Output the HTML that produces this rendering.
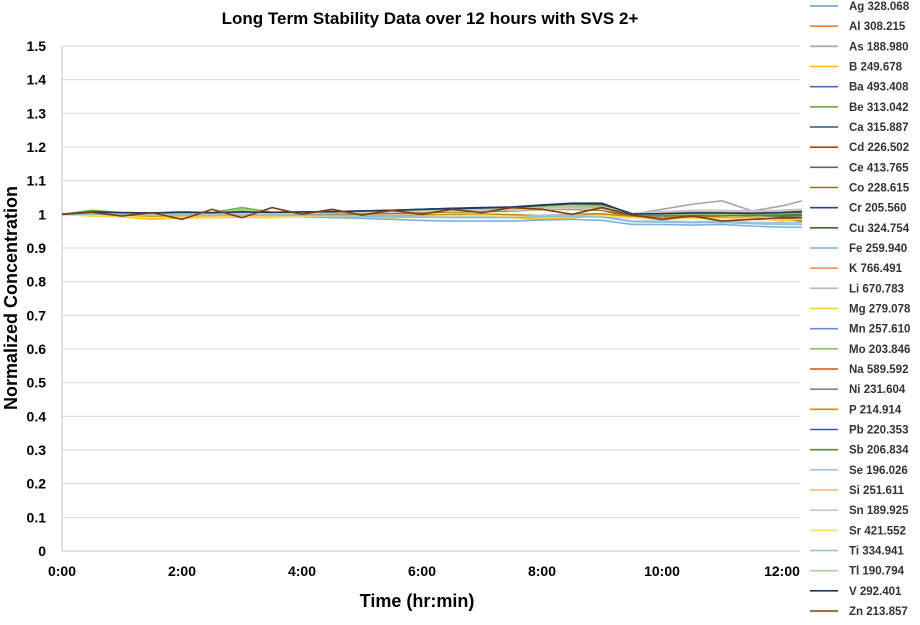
<!DOCTYPE html>
<html><head><meta charset="utf-8"><style>
body{margin:0;background:#fff;font-family:"Liberation Sans",Arial,sans-serif}
svg text{font-family:"Liberation Sans",Arial,sans-serif}
</style></head><body>
<svg id="c" width="920" height="620"></svg>
<script>
const times=[0,30,60,90,120,150,180,210,240,270,300,330,360,390,420,450,480,510,540,570,600,630,660,690,720,740];
const yTicks=[0,0.1,0.2,0.3,0.4,0.5,0.6,0.7,0.8,0.9,1,1.1,1.2,1.3,1.4,1.5];
const xTicks=["0:00","2:00","4:00","6:00","8:00","10:00","12:00"];
const names=["Ag 328.068","Al 308.215","As 188.980","B 249.678","Ba 493.408","Be 313.042","Ca 315.887","Cd 226.502","Ce 413.765","Co 228.615","Cr 205.560","Cu 324.754","Fe 259.940","K 766.491","Li 670.783","Mg 279.078","Mn 257.610","Mo 203.846","Na 589.592","Ni 231.604","P 214.914","Pb 220.353","Sb 206.834","Se 196.026","Si 251.611","Sn 189.925","Sr 421.552","Ti 334.941","Tl 190.794","V 292.401","Zn 213.857"];
const colors=["#5b9bd5","#ed7d31","#a5a5a5","#ffc000","#4472c4","#70ad47","#255e91","#9e480e","#636363","#997300","#264478","#43682b","#7cafdd","#f1975a","#b7b7b7","#ffcd33","#698ed0","#8cc168","#c55a11","#848484","#c09100","#335aa1","#5a8a39","#9dc3e6","#f4b183","#c9c9c9","#ffd966","#8fc1d6","#a9d18e","#203864","#843c0c"];
const s0=[1,1.008,1.004,1.002,1.004,1.003,1.005,1.004,1.005,1.006,1.007,1.008,1.01,1.012,1.013,1.015,1.02,1.022,1.02,0.995,0.996,0.995,0.998,0.997,0.998,1.0];
const s1=[1,1.005,1.003,1.001,1.003,1.002,1.004,1.003,1.004,1.005,1.006,1.007,1.009,1.011,1.012,1.014,1.018,1.02,1.015,0.998,1.0,1.002,1.01,1.003,1.006,1.012];
const s2=[1,1.004,1.002,1.0,1.002,1.001,1.003,1.002,1.003,1.004,1.005,1.006,1.008,1.01,1.011,1.013,1.016,1.018,1.015,1.0,1.015,1.03,1.04,1.01,1.025,1.04];
const s3=[1,0.995,0.993,0.985,0.99,0.99,0.992,0.99,0.995,0.993,0.992,0.99,0.992,0.995,0.997,0.99,0.985,0.99,0.995,0.99,0.985,0.99,0.988,0.99,0.98,0.985];
const s4=[1,1.006,1.004,1.003,1.005,1.004,1.006,1.005,1.006,1.007,1.008,1.01,1.012,1.014,1.016,1.018,1.022,1.025,1.025,1.0,1.002,1.004,1.005,1.004,1.006,1.01];
const s5=[1,1.012,1.005,1.003,1.008,1.005,1.02,1.006,1.005,1.006,1.007,1.01,1.012,1.014,1.015,1.017,1.022,1.03,1.03,1.002,1.0,1.003,1.0,1.002,1.003,1.008];
const s6=[1,1.007,1.005,1.004,1.006,1.005,1.007,1.006,1.007,1.008,1.009,1.011,1.014,1.016,1.018,1.02,1.025,1.03,1.03,1.002,1.003,1.005,1.006,1.005,1.007,1.01];
const s7=[1,1.002,1.0,0.998,1.0,0.999,1.002,1.0,1.002,1.002,1.004,1.005,1.006,1.008,1.01,1.012,1.015,1.016,1.014,0.995,0.99,0.995,0.992,0.99,0.985,0.99];
const s8=[1,1.004,1.003,1.002,1.003,1.002,1.004,1.003,1.004,1.005,1.006,1.007,1.009,1.011,1.012,1.014,1.018,1.02,1.02,0.997,0.998,1.0,1.0,0.999,1.0,1.002];
const s9=[1,1.001,0.999,0.997,0.999,0.998,1.0,0.999,1.0,1.001,1.002,1.003,1.005,1.007,1.008,1.01,1.014,1.015,1.012,0.992,0.99,0.993,0.99,0.985,0.985,0.98];
const s10=[1,1.006,1.004,1.003,1.005,1.004,1.006,1.005,1.006,1.008,1.01,1.012,1.015,1.018,1.02,1.022,1.028,1.033,1.033,1.0,1.002,1.004,1.004,1.003,1.005,1.008];
const s11=[1,1.005,1.004,1.002,1.004,1.003,1.005,1.004,1.005,1.007,1.008,1.01,1.013,1.015,1.017,1.019,1.025,1.03,1.03,0.998,0.997,1.0,0.998,0.996,0.995,0.996];
const s12=[1,1.0,0.998,0.996,0.996,0.995,0.995,0.994,0.993,0.99,0.988,0.985,0.982,0.98,0.98,0.98,0.983,0.985,0.982,0.97,0.97,0.968,0.97,0.965,0.962,0.962];
const s13=[1,1.004,1.002,1.0,1.002,1.001,1.003,1.002,1.003,1.004,1.006,1.007,1.008,1.01,1.012,1.015,1.02,1.02,1.018,1.0,1.005,1.012,1.01,1.008,1.012,1.015];
const s14=[1,1.003,1.002,1.0,1.002,1.001,1.003,1.002,1.003,1.004,1.005,1.006,1.008,1.01,1.011,1.013,1.016,1.018,1.015,1.002,1.006,1.01,1.01,1.008,1.01,1.012];
const s15=[1,0.997,0.995,0.99,0.993,0.993,0.995,0.993,0.996,0.995,0.995,0.993,0.995,0.997,0.998,0.995,0.99,0.995,0.998,0.992,0.988,0.99,0.99,0.99,0.985,0.988];
const s16=[1,1.005,1.003,1.002,1.004,1.003,1.005,1.004,1.005,1.006,1.007,1.009,1.011,1.013,1.014,1.016,1.02,1.022,1.02,0.998,0.999,1.001,1.002,1.001,1.003,1.005];
const s17=[1,1.006,1.004,1.002,1.004,1.003,1.01,1.004,1.005,1.006,1.007,1.009,1.011,1.013,1.015,1.017,1.02,1.025,1.022,1.0,1.0,1.002,1.003,1.002,1.004,1.006];
const s18=[1,1.003,1.0,0.998,1.001,1.0,1.002,1.0,1.002,1.003,1.004,1.005,1.007,1.009,1.01,1.012,1.016,1.018,1.016,0.996,0.998,1.004,1.0,0.996,0.998,1.0];
const s19=[1,1.004,1.002,1.001,1.003,1.002,1.004,1.003,1.004,1.005,1.006,1.007,1.009,1.011,1.012,1.014,1.018,1.02,1.018,0.997,0.997,0.999,0.999,0.998,0.999,1.0];
const s20=[1,0.998,0.996,0.993,0.995,0.995,0.997,0.995,0.997,0.997,0.997,0.996,0.998,1.0,1.001,0.999,0.995,1.0,1.002,0.993,0.99,0.992,0.99,0.988,0.986,0.988];
const s21=[1,1.006,1.004,1.003,1.005,1.004,1.006,1.005,1.006,1.007,1.009,1.011,1.013,1.016,1.018,1.02,1.025,1.028,1.028,1.0,1.001,1.003,1.003,1.002,1.004,1.006];
const s22=[1,1.005,1.003,1.002,1.004,1.003,1.005,1.004,1.005,1.006,1.008,1.01,1.012,1.014,1.016,1.018,1.024,1.03,1.03,0.999,0.998,1.0,0.999,0.997,0.998,1.0];
const s23=[1,1.002,1.0,0.998,0.999,0.998,0.999,0.998,0.998,0.997,0.996,0.995,0.994,0.993,0.993,0.993,0.996,0.998,0.995,0.98,0.98,0.978,0.98,0.976,0.975,0.975];
const s24=[1,1.004,1.002,1.001,1.003,1.002,1.004,1.003,1.004,1.005,1.006,1.008,1.01,1.012,1.013,1.015,1.019,1.02,1.018,1.0,1.004,1.008,1.008,1.006,1.01,1.014];
const s25=[1,1.003,1.001,1.0,1.002,1.001,1.003,1.002,1.003,1.004,1.005,1.006,1.008,1.009,1.011,1.012,1.015,1.017,1.015,1.003,1.008,1.012,1.012,1.01,1.012,1.015];
const s26=[1,0.996,0.994,0.99,0.992,0.992,0.994,0.992,0.995,0.994,0.994,0.992,0.994,0.996,0.997,0.994,0.99,0.994,0.996,0.99,0.986,0.988,0.988,0.987,0.983,0.985];
const s27=[1,1.001,0.999,0.997,0.998,0.997,0.998,0.997,0.997,0.996,0.995,0.993,0.992,0.99,0.99,0.99,0.993,0.995,0.992,0.978,0.977,0.975,0.976,0.972,0.97,0.97];
const s28=[1,1.007,1.004,1.002,1.005,1.003,1.015,1.004,1.005,1.006,1.007,1.009,1.011,1.013,1.015,1.017,1.021,1.026,1.024,1.001,1.0,1.002,1.001,1.002,1.003,1.006];
const s29=[1,1.007,1.005,1.004,1.006,1.005,1.007,1.006,1.007,1.008,1.01,1.012,1.015,1.017,1.019,1.021,1.027,1.032,1.032,1.001,1.002,1.004,1.004,1.003,1.005,1.008];
const s30=[1,1.006,0.995,1.005,0.985,1.015,0.99,1.02,1.0,1.015,0.998,1.012,1.0,1.015,1.005,1.02,1.015,1.0,1.02,0.998,0.985,0.995,0.98,0.985,0.99,0.99];
const series=[s0,s1,s2,s3,s4,s5,s6,s7,s8,s9,s10,s11,s12,s13,s14,s15,s16,s17,s18,s19,s20,s21,s22,s23,s24,s25,s26,s27,s28,s29,s30];

const svg=document.getElementById('c');const NS='http://www.w3.org/2000/svg';
const L=62,R=800,T=46,B=551;
const xs=m=>L+m/60*60;
const ys=v=>B-(v/1.5)*(B-T);
function mk(tag,attrs,parent){const e=document.createElementNS(NS,tag);for(const k in attrs)e.setAttribute(k,attrs[k]);(parent||svg).appendChild(e);return e;}
yTicks.forEach((t,i)=>{
  const g=mk('line',{x1:L,x2:R,y1:ys(t),y2:ys(t),stroke:i==0?'#bfbfbf':'#d9d9d9','stroke-width':1});
  
  
  const tx=mk('text',{x:L-16,y:ys(t)+5,'text-anchor':'end','font-size':14,'font-weight':'bold',fill:'#000'});
  tx.textContent=(t===0||t===1)?String(t):t.toFixed(1);
  
  
});
const ax=mk('line',{x1:L,x2:L,y1:T,y2:B,stroke:'#bfbfbf'});


xTicks.forEach((t,i)=>{
  const tx=mk('text',{x:xs(i*120),y:576,'text-anchor':'middle','font-size':14,'font-weight':'bold'});
  tx.textContent=t;
  
  
});
series.forEach((s,i)=>{
  const p=mk('polyline',{points:s.map((v,j)=>xs(times[j])+','+ys(v)).join(' '),fill:'none',stroke:colors[i],'stroke-width':1.6});
  
  
  const ly=6+i*(605/30);
  const ln=mk('line',{x1:810,x2:838,y1:ly,y2:ly,stroke:colors[i],'stroke-width':1.6});
  
  
  const lt=mk('text',{x:849,y:ly+4,'font-size':11.5,'font-weight':'bold',fill:'#333'});
  lt.textContent=names[i];
  
  
});
const title=mk('text',{x:430,y:24,'text-anchor':'middle','font-size':17,'font-weight':'bold'});
title.textContent='Long Term Stability Data over 12 hours with SVS 2+';


const xt=mk('text',{x:417,y:607,'text-anchor':'middle','font-size':18,'font-weight':'bold'});
xt.textContent='Time (hr:min)';


const yt=mk('text',{x:0,y:0,transform:'translate(17,298) rotate(-90)','text-anchor':'middle','font-size':18,'font-weight':'bold'});
yt.textContent='Normalized Concentration';


</script>
</body></html>
